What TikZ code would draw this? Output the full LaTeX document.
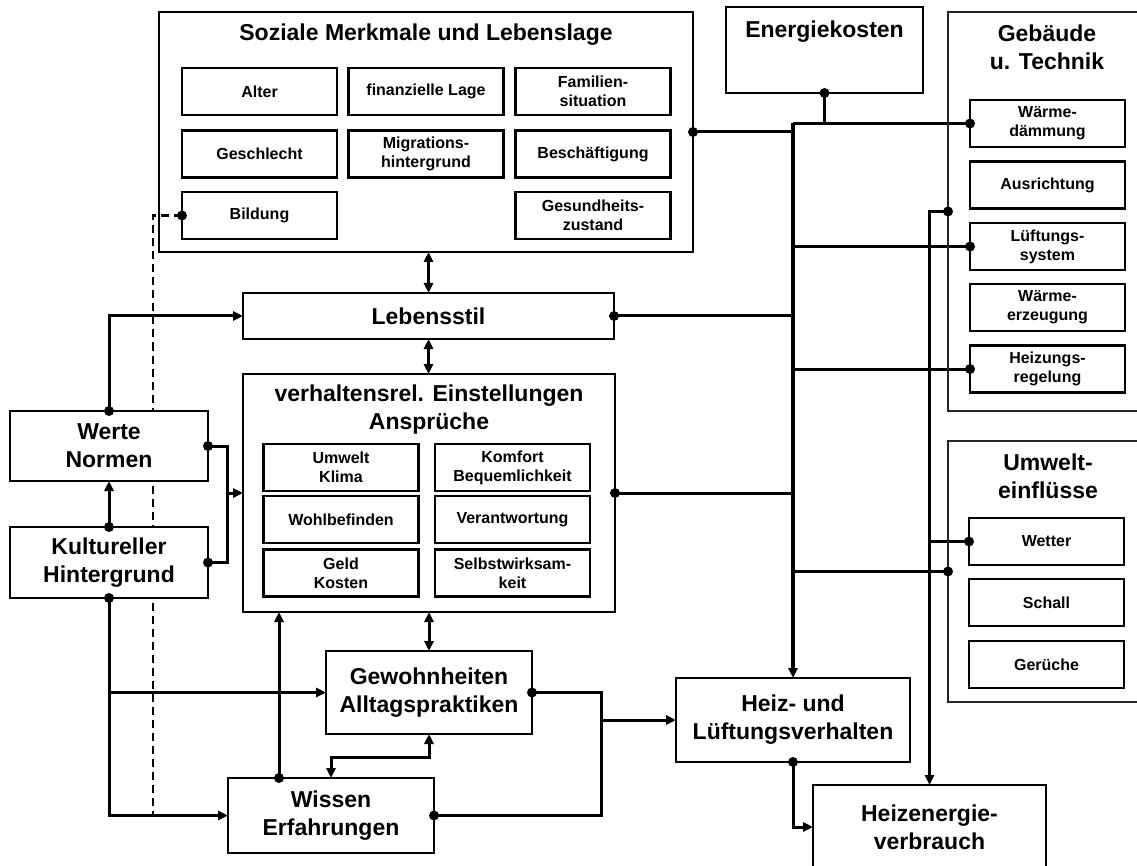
\documentclass[tikz,border=0pt]{standalone}
\usepackage{fontspec}
\setmainfont{Liberation Sans}
\usetikzlibrary{arrows.meta,backgrounds}
\tikzset{
  big/.style={font=\fontsize{23}{28}\selectfont\bfseries},
  small/.style={font=\fontsize{16}{19}\selectfont\bfseries},
  box/.style={draw, line width=2.2pt, fill=white, inner sep=0pt, outer sep=0pt, align=center},
  fbox/.style={draw, line width=2.2pt, inner sep=0pt, outer sep=0pt},
  frame/.style={draw=black!85, line width=1.6pt, inner sep=0pt, outer sep=0pt},
  sbox/.style={box, small, minimum width=155pt, minimum height=47pt},
  txt/.style={inner sep=0pt, align=center},
  conn/.style={line width=3pt},
  bus/.style={line width=3.6pt},
  arr/.style={-{Triangle[length=10pt,width=9pt]}},
  darr/.style={{Triangle[length=10pt,width=9pt]}-{Triangle[length=10pt,width=9pt]}},
}
\begin{document}
\begin{tikzpicture}[x=1pt,y=-1pt]
\useasboundingbox (0,0) rectangle (1137,866);
% ---- Soziale Merkmale
\node[fbox, minimum width=534pt, minimum height=240pt] (soz) at (426,132) {};
\node[txt,big,anchor=base] (sozt) at (426,41) {Soziale Merkmale und Lebenslage};
\node[sbox] (alter) at (259.5,91.5) {Alter};
\node[sbox] (finanz) at (426,91.5) {finanzielle Lage};
\node[sbox] (famil) at (593,91.5) {Familien-\\situation};
\node[sbox] (geschl) at (259.5,154) {Geschlecht};
\node[sbox] (migr) at (426,154) {Migrations-\\hintergrund};
\node[sbox] (besch) at (593,154) {Beschäftigung};
\node[sbox] (bildung) at (259.5,215.5) {Bildung};
\node[sbox] (gesund) at (593,215.5) {Gesundheits-\\zustand};
% ---- Energiekosten
\node[fbox, minimum width=197pt, minimum height=86pt] (energ) at (824.5,50) {};
\node[txt,big,anchor=base] (energt) at (824.5,38) {Energiekosten};
% ---- Gebaeude
\node[frame, minimum width=192pt, minimum height=399pt] (geb) at (1044,211.5) {};
\node[txt,big] (gebt) at (1047,47.5) {Gebäude\\u. Technik};
\node[sbox] (waerme) at (1047.5,123.5) {Wärme-\\dämmung};
\node[sbox] (ausr) at (1047.5,185) {Ausrichtung};
\node[sbox] (lueft) at (1047.5,246.5) {Lüftungs-\\system};
\node[sbox] (erz) at (1047.5,307.5) {Wärme-\\erzeugung};
\node[sbox] (heizreg) at (1047.5,369) {Heizungs-\\regelung};
% ---- Lebensstil / Einstellungen
\node[box,big,minimum width=371pt,minimum height=46pt] (leben) at (428.5,316) {Lebensstil};
\node[fbox, minimum width=372pt, minimum height=238pt] (einst) at (429,493) {};
\node[txt,big] (einstt) at (429,410) {verhaltensrel. Einstellungen\\Ansprüche};
\node[sbox] (umw) at (341,467.5) {Umwelt\\Klima};
\node[sbox] (komf) at (512.5,467.5) {Komfort\\Bequemlichkeit};
\node[sbox] (wohl) at (341,519.5) {Wohlbefinden};
\node[sbox] (verant) at (512.5,519.5) {Verantwortung};
\node[sbox] (geld) at (341,573) {Geld\\Kosten};
\node[sbox] (selbst) at (512.5,573) {Selbstwirksam-\\keit};
% ---- left column
\node[box,big,minimum width=198pt,minimum height=70pt] (werte) at (109,446) {Werte\\Normen};
\node[box,big,minimum width=198pt,minimum height=71pt] (kult) at (109,562.5) {Kultureller\\Hintergrund};
% ---- bottom
\node[box,big,minimum width=206pt,minimum height=83pt] (gew) at (429,692.5) {Gewohnheiten\\Alltagspraktiken};
\node[box,big,minimum width=206pt,minimum height=75pt] (wissen) at (331,815.5) {Wissen\\Erfahrungen};
\node[box,big,minimum width=234pt,minimum height=84pt] (heiz) at (793,720) {Heiz- und\\Lüftungsverhalten};
\node[box,big,minimum width=233pt,minimum height=84pt] (heizen) at (929.5,827) {Heizenergie-\\verbrauch};
% ---- Umwelteinfluesse
\node[frame, minimum width=192pt, minimum height=261pt] (umweltf) at (1044,571.5) {};
\node[txt,big] (umweltt) at (1048,476) {Umwelt-\\einflüsse};
\node[sbox] (wetter) at (1046.5,541.5) {Wetter};
\node[sbox] (schall) at (1046.5,602.5) {Schall};
\node[sbox] (geruch) at (1046.5,664.5) {Gerüche};
% ---- connectors
\coordinate (bustop) at (793,123.5);
\coordinate (gx) at (601,720);
\coordinate (wdot) at (279,778);
\coordinate (bx) at (227,493);
\coordinate (dx) at (153,215.5);
\begin{scope}[on background layer]
\draw[bus,arr] (bustop) -- (heiz.north);
\draw[conn] (bustop) -- (waerme.west);
\draw[conn] (energ.south) -- (energ.south |- bustop);
\draw[conn] (soz.east) -- (soz.east -| bustop);
\draw[conn] (leben.east) -- (leben.east -| bustop);
\draw[conn] (einst.east) -- (einst.east -| bustop);
\draw[conn] (lueft.west) -- (lueft.west -| bustop);
\draw[conn] (heizreg.west) -- (heizreg.west -| bustop);
\draw[conn] (umweltf.west) -- (umweltf.west -| bustop);
\draw[bus,arr] (geb.west) -- (geb.west -| heizen.north) -- (heizen.north);
\draw[conn] (wetter.west) -- (wetter.west -| heizen.north);
\draw[conn,arr] (heiz.south) |- (heizen.west);
\draw[conn] (gew.east) -- (gew.east -| gx) -- (wissen.east -| gx) -- (wissen.east);
\draw[conn,arr] (gx) -- (heiz.west);
\draw[conn,darr] (leben.north) -- (leben.north |- soz.south);
\draw[conn,darr] (leben.south) -- (leben.south |- einst.north);
\draw[conn,darr] (einst.south -| gew.north) -- (gew.north);
\draw[conn,darr] (gew.south) -- ++(0,23) -| (wissen.north);
\draw[conn,arr] (wdot) -- (wdot |- einst.south);
\draw[conn,arr] (werte.north) |- (leben.west);
\draw[conn] (werte.east) -| (bx) |- (kult.east);
\draw[conn,arr] (bx) -- (einst.west);
\draw[conn,arr] (kult.north) -- (werte.south);
\draw[conn,arr] (kult.south) |- (wissen.west);
\draw[conn,arr] (kult.south |- gew.west) -- (gew.west);
\draw[line width=2.6pt, dash pattern=on 8pt off 5pt] (bildung.west) -- (dx) -- (dx |- wissen.west) -- ([xshift=-14pt]wissen.west);
\end{scope}
% ---- dots
\foreach \p in {soz.east, leben.east, einst.east, waerme.west, lueft.west, heizreg.west, geb.west, umweltf.west, wetter.west, energ.south, heiz.south, gew.east, wissen.east, werte.north, werte.east, kult.east, kult.north, kult.south, bildung.west, wdot}
  \fill (\p) circle (5pt);
\end{tikzpicture}
\end{document}
